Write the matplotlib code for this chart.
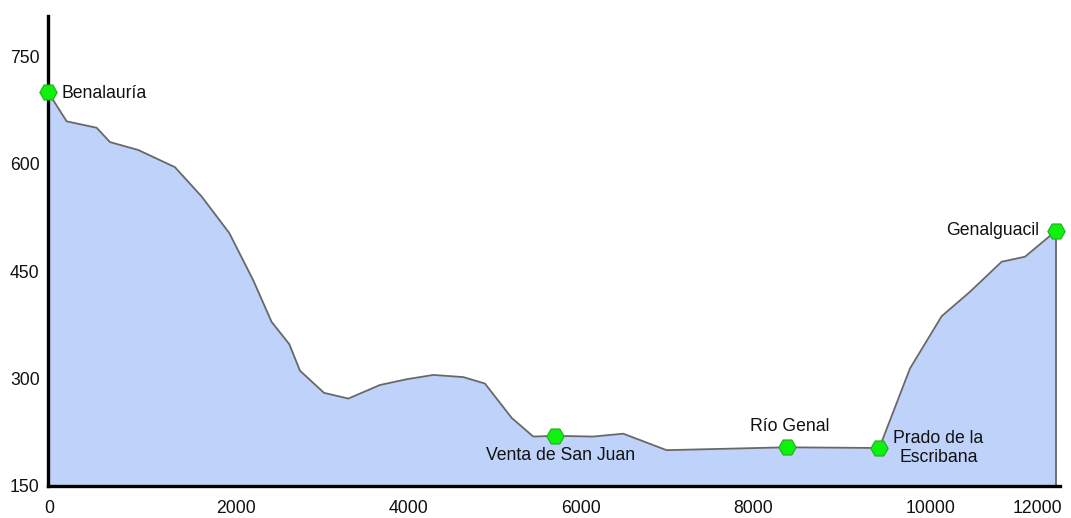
import matplotlib.pyplot as plt
import matplotlib.transforms as mtransforms

plt.rcParams['font.family'] = ['Liberation Sans', 'DejaVu Sans']

# elevation profile (distance in m, elevation in m)
dist = [0, 217, 565, 720, 1048, 1474, 1784, 2105, 2383, 2596, 2801, 2925,
        3204, 3486, 3854, 4164, 4473, 4821, 5072, 5383, 5633, 5889, 6330,
        6678, 7181, 8574, 9650, 10006, 10374, 10702, 11070, 11341, 11700]
elev = [700, 659, 650, 630, 619, 595, 554, 503, 437, 379, 348, 311,
        280, 272, 291, 299, 305, 302, 293, 245, 219, 220, 219,
        223, 200, 204, 203, 314, 387, 421, 463, 470, 506]

# waypoints
wp_names = ['Benalauría', 'Venta de San Juan', 'Río Genal',
            'Prado de la\nEscribana', 'Genalguacil']
wp_dist = [0, 5889, 8574, 9650, 11700]
wp_elev = [700, 220, 204, 203, 506]

x_ticks = [0, 2000, 4000, 6000, 8000, 10000]
y_ticks = [150, 300, 450, 600, 750]

FS = 12.7

fig = plt.figure(figsize=(10.71, 5.18), dpi=100)
ax = fig.add_axes([0.0448, 0.0618, 0.9449, 0.9073])

base = 150
ax.fill_between(dist, elev, base, color='#bfd2fa', lw=0, zorder=1)
ax.plot(dist, elev, color='#686868', lw=1.3, zorder=2)
ax.vlines(dist[-1], base, elev[-1], color='#686868', lw=1.3, zorder=2)

ax.plot(wp_dist, wp_elev, ls='none', marker='H', ms=12.5,
        mfc='#0ef20e', mec='#22aa22', mew=0.8, zorder=4, clip_on=False)

# label placement (offset in points, alignment)
offsets = [((10, -1), 'left'), ((4, -14.5), 'center'), ((2, 15), 'center'),
           ((10, 0), 'left'), ((-12, 0), 'right')]
for name, x, y, (off, ha) in zip(wp_names, wp_dist, wp_elev, offsets):
    ax.annotate(name, (x, y), xytext=off, textcoords='offset points',
                ha=ha, va='center', multialignment='center', fontsize=FS,
                color='#111111', zorder=5)

ax.set_xlim(0, 11747)
ax.set_ylim(base, 806)
ax.set_xticks(x_ticks)
ax.set_yticks(y_ticks)
ax.tick_params(axis='both', length=0, labelsize=FS, colors='#111111')
ax.tick_params(axis='x', pad=10)
ax.tick_params(axis='y', pad=6)

# x labels sit just right of their tick, like the original
shift = mtransforms.ScaledTranslation(-4 / 100, 0, fig.dpi_scale_trans)
for lab in ax.get_xticklabels():
    lab.set_horizontalalignment('left')
    lab.set_transform(lab.get_transform() + shift)

# last label squeezed in at the right end of the axis
ax.annotate('12000', (1, 0), xycoords='axes fraction', xytext=(2, -10),
            textcoords='offset points', ha='right', va='top', fontsize=FS,
            color='#111111')

for s in ['top', 'right']:
    ax.spines[s].set_visible(False)
for s in ['left', 'bottom']:
    ax.spines[s].set_linewidth(2.4)
    ax.spines[s].set_color('black')

fig.savefig('out.png', dpi=100)
